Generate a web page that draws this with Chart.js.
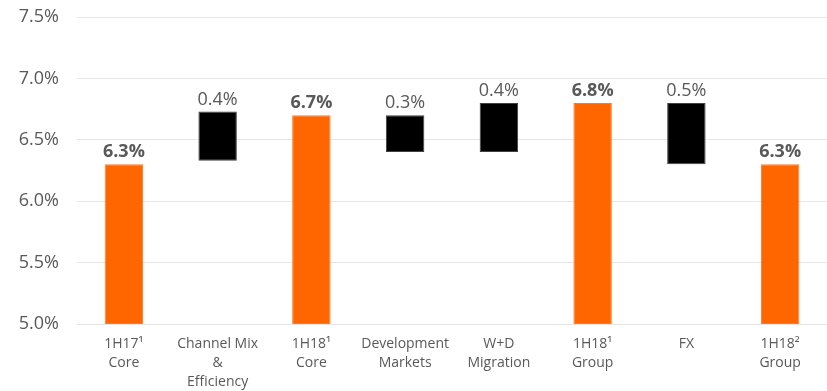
<!doctype html>
<html lang="en">
  <head>
    <meta charset="utf-8">
    <title>Margin bridge</title>
    <script src="https://cdn.jsdelivr.net/npm/chart.js@4.4.0/dist/chart.umd.min.js"></script>
    <style>
      html, body { margin: 0; padding: 0; background: #fff; }
      #wrap { width: 827px; height: 391px; }
    </style>
  </head>
  <body>
    <div id="wrap"><canvas id="bridge"></canvas></div>
    <script>
      // categories (multi-line tick labels)
      var categories = [
        ['1H17\u00B9', 'Core'],
        ['Channel Mix', '&', 'Efficiency'],
        ['1H18\u00B9', 'Core'],
        ['Development', 'Markets'],
        ['W+D', 'Migration'],
        ['1H18\u00B9', 'Group'],
        ['FX'],
        ['1H18\u00B2', 'Group']
      ];
      // floating bar ranges, in %
      var barLow  = [5.0, 6.33, 5.0, 6.40, 6.40, 5.0, 6.30, 5.0];
      var barHigh = [6.30, 6.73, 6.70, 6.70, 6.80, 6.80, 6.80, 6.30];
      var valueLabels = ['6.3%', '0.4%', '6.7%', '0.3%', '0.4%', '6.8%', '0.5%', '6.3%'];
      var isTotal = [true, false, true, false, false, true, false, true];
      var yTicks = [5.0, 5.5, 6.0, 6.5, 7.0, 7.5];

      var ranges = barLow.map(function(lo, i) { return [lo, barHigh[i]]; });
      var fills = isTotal.map(function(t) { return t ? '#FF6600' : '#000000'; });
      var borders = isTotal.map(function(t) { return t ? '#FF7A26' : '#404040'; });

      var valueLabelPlugin = {
        id: 'valueLabels',
        afterDatasetsDraw: function(chart) {
          var ctx = chart.ctx;
          var meta = chart.getDatasetMeta(0);
          ctx.save();
          ctx.textAlign = 'center';
          ctx.textBaseline = 'bottom';
          ctx.fillStyle = '#595959';
          meta.data.forEach(function(bar, i) {
            ctx.font = (isTotal[i] ? 'bold ' : '') + '18px "Open Sans"';
            ctx.fillText(valueLabels[i], bar.x, bar.y - 3);
          });
          ctx.restore();
        }
      };

      new Chart(document.getElementById('bridge'), {
        type: 'bar',
        data: {
          labels: categories,
          datasets: [{
            data: ranges,
            backgroundColor: fills,
            borderColor: borders,
            borderWidth: 1,
            borderSkipped: false,
            categoryPercentage: 1.0,
            barPercentage: 0.41
          }]
        },
        options: {
          responsive: true,
          maintainAspectRatio: false,
          animation: false,
          layout: { padding: { top: 17, right: 0, left: 0, bottom: 0 } },
          plugins: {
            legend: { display: false },
            tooltip: { enabled: false }
          },
          scales: {
            x: {
              grid: { display: false, drawTicks: false },
              border: { display: false },
              ticks: {
                color: '#595959',
                font: { family: 'Open Sans', size: 14, lineHeight: '19px' },
                padding: 11,
                maxRotation: 0,
                autoSkip: false
              },
              afterFit: function(scale) { scale.height = 67; }
            },
            y: {
              min: 5.0,
              max: 7.5,
              afterBuildTicks: function(scale) {
                scale.ticks = yTicks.map(function(v) { return { value: v }; });
              },
              grid: { color: '#E6E6E6', lineWidth: 1, drawTicks: false },
              border: { display: false },
              ticks: {
                color: '#595959',
                font: { family: 'Open Sans', size: 18 },
                padding: 18,
                callback: function(v) { return v.toFixed(1) + '%'; }
              },
              afterFit: function(scale) {
                scale.width = 77;
                scale.paddingTop = 0;
                scale.paddingBottom = 0;
              }
            }
          }
        },
        plugins: [valueLabelPlugin]
      });
    </script>
  </body>
</html>
